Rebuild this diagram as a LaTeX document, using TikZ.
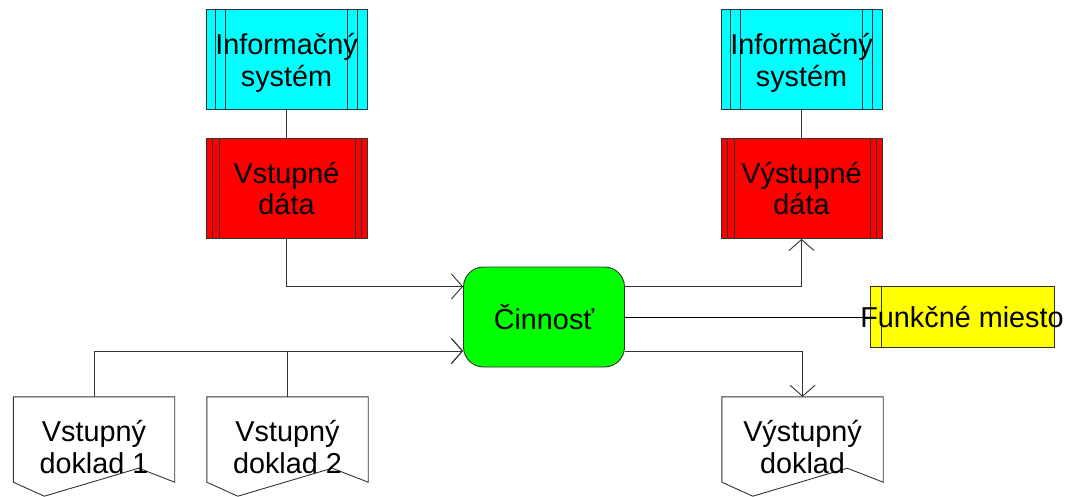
\documentclass[tikz,border=0pt]{standalone}
\usepackage{fontspec}
\setmainfont{Liberation Sans}
\usetikzlibrary{arrows.meta,calc}
\definecolor{linegray}{gray}{0.2}
\definecolor{purecyan}{RGB}{0,255,255}
\definecolor{purered}{RGB}{255,0,0}
\definecolor{puregreen}{RGB}{0,255,0}
\definecolor{pureyellow}{RGB}{255,255,0}
\tikzset{
  x=1pt,y=-1pt,
  every node/.style={font=\fontsize{28.8}{31.5}\selectfont,align=center,inner sep=0pt,text=black},
  boxnode/.style={draw=linegray,line width=0.9pt,minimum width=161pt,minimum height=100pt},
  docnode/.style={minimum width=161pt,minimum height=100pt},
  doc line/.style={draw=linegray,line width=0.9pt},
  inner line/.style={draw=linegray,line width=0.9pt},
  conn/.style={draw=linegray,line width=0.9pt},
  barb/.style={-{Straight Barb[length=11pt,width=25pt,line width=0.9pt]}},
}
\newcommand{\docpath}[1]{%
  \fill[white,doc line] (#1.north west) -- (#1.north east) -- ($(#1.south east)+(0,-15)$)
    -- ($(#1.south east)+(-36,-29)$) -- ($(#1.south west)+(31,-1)$) -- ($(#1.south west)+(0,-15)$) -- cycle;}
\begin{document}
\begin{tikzpicture}
\useasboundingbox (0,0) rectangle (1067,497);
% process nodes
\node[boxnode,fill=purecyan] (is1) at (286.5,59) {};
\node[boxnode,fill=purered] (vd1) at (286.5,188.5) {};
\node[boxnode,fill=purecyan] (is2) at (801.5,59) {};
\node[boxnode,fill=purered] (vd2) at (801.5,188.5) {};
\node[boxnode,fill=puregreen,rounded corners=20pt] (act) at (544,317) {Činnosť};
% inner lines
\foreach \n in {is1,is2}{
  \draw[inner line] ($(\n.north west)+(10,0)$) -- ($(\n.south west)+(10,0)$);
  \draw[inner line] ($(\n.north west)+(20,0)$) -- ($(\n.south west)+(20,0)$);
  \draw[inner line] ($(\n.north east)+(-10,0)$) -- ($(\n.south east)+(-10,0)$);
  \draw[inner line] ($(\n.north east)+(-20,0)$) -- ($(\n.south east)+(-20,0)$);
}
\foreach \n in {vd1,vd2}{
  \draw[inner line] ($(\n.north west)+(7,0)$) -- ($(\n.south west)+(7,0)$);
  \draw[inner line] ($(\n.north west)+(13.5,0)$) -- ($(\n.south west)+(13.5,0)$);
  \draw[inner line] ($(\n.north east)+(-6,0)$) -- ($(\n.south east)+(-6,0)$);
  \draw[inner line] ($(\n.north east)+(-12.5,0)$) -- ($(\n.south east)+(-12.5,0)$);
}
\node[yshift=-4pt] (is1t) at (is1) {Informačný\\systém};
\node[yshift=-4pt] (is2t) at (is2) {Informačný\\systém};
\node (vd1t) at (vd1) {Vstupné\\dáta};
\node (vd2t) at (vd2) {Výstupné\\dáta};
% documents
\node[docnode] (d1) at (94,447) {};
\node[docnode] (d2) at (287.5,447) {};
\node[docnode] (d3) at (802.5,447) {};
\docpath{d1}\docpath{d2}\docpath{d3}
\node (d1t) at (d1) {Vstupný\\doklad 1};
\node (d2t) at (d2) {Vstupný\\doklad 2};
\node (d3t) at (d3) {Výstupný\\doklad};
% function place
\node[draw=linegray,line width=0.9pt,fill=pureyellow,minimum width=184pt,minimum height=61pt] (fm) at (962,317) {};
\draw[inner line] ($(fm.north west)+(12,0)$) -- ($(fm.south west)+(12,0)$);
% connectors
\draw[conn] (is1) -- (vd1);
\draw[conn] (is2) -- (vd2);
\coordinate (inA) at ($(act.west)+(0,-30.5)$);
\coordinate (inB) at ($(act.west)+(0,34)$);
\coordinate (outA) at ($(act.east)+(0,-31)$);
\coordinate (outB) at ($(act.east)+(0,34)$);
\draw[conn,barb] (vd1.south) |- (inA);
\draw[conn] (d1.north) |- (d2.north |- inB);
\draw[conn,barb] (d2.north) |- (inB);
\draw[conn,barb] (d1.north |- inB) -- (inB);
\draw[conn,barb] (outA) -| (vd2.south);
\draw[conn,barb] (outB) -| (d3.north);
\draw[black,line width=0.9pt] (act.east) -- (fm.west);
\node (fmt) at (fm) {Funkčné miesto};
\end{tikzpicture}
\end{document}
